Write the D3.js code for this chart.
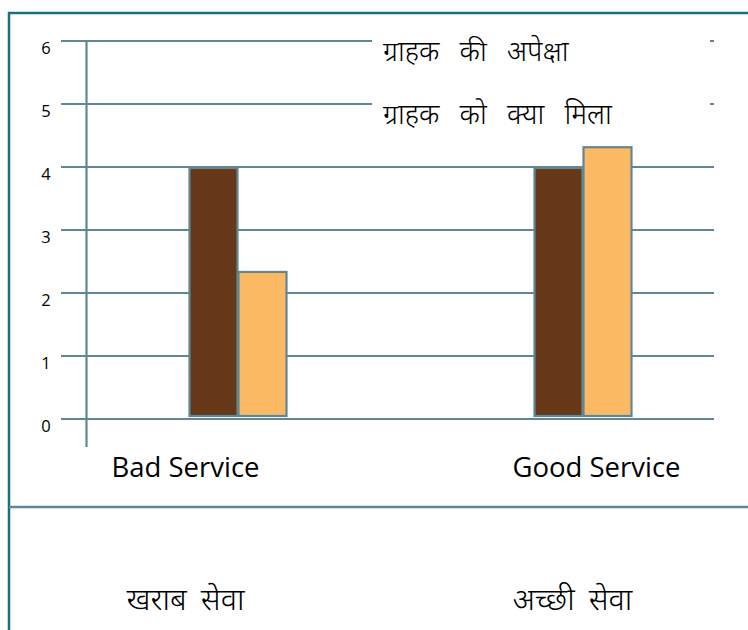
<!doctype html>
<html>
<head>
<meta charset="utf-8">
<script src="https://cdn.jsdelivr.net/npm/d3@7"></script>
<style>
  body { margin: 0; background: #fff; }
  svg text { font-family: "Open Sans", "Noto Sans", sans-serif; }
  .hi { font-family: "Noto Sans", "Noto Sans Devanagari", "Lohit Devanagari", sans-serif; font-weight: 300; }
</style>
</head>
<body>
<svg id="chart" width="748" height="630"></svg>
<script>
  var categories = ['Bad Service', 'Good Service'];
  var categoriesHindi = ['खराब सेवा', 'अच्छी सेवा'];
  var series = ['ग्राहक की अपेक्षा', 'ग्राहक को क्या मिला'];
  var expected = [4, 4];
  var received = [2.35, 4.33];
  var yTicks = [0, 1, 2, 3, 4, 5, 6];

  var grid = '#5f8796', frame = '#176f80';
  var colors = ['#673817', '#fcb963'];

  var svg = d3.select('#chart');

  var y = d3.scaleLinear().domain([0, 6]).range([419, 41]);
  var x0 = d3.scaleBand().domain(categories).range([65, 755]);
  var x1 = d3.scaleBand().domain(series).range([-49, 49]);

  // frame
  svg.append('line').attr('x1', 8).attr('x2', 748).attr('y1', 13).attr('y2', 13)
    .attr('stroke', frame).attr('stroke-width', 2.5);
  svg.append('line').attr('x1', 9).attr('x2', 9).attr('y1', 12).attr('y2', 630)
    .attr('stroke', frame).attr('stroke-width', 2.5);
  svg.append('line').attr('x1', 9).attr('x2', 748).attr('y1', 507).attr('y2', 507)
    .attr('stroke', grid).attr('stroke-width', 2.5);

  // gridlines
  svg.append('g').selectAll('line').data(yTicks).enter().append('line')
    .attr('x1', 61).attr('x2', 714)
    .attr('y1', function (d) { return y(d); })
    .attr('y2', function (d) { return y(d); })
    .attr('stroke', grid).attr('stroke-width', 2.2);

  svg.append('line').attr('x1', 86.5).attr('x2', 86.5).attr('y1', y(6)).attr('y2', 447)
    .attr('stroke', grid).attr('stroke-width', 2.2);

  svg.append('g').selectAll('text').data(yTicks).enter().append('text')
    .attr('x', 46).attr('y', function (d) { return y(d) + 13; })
    .attr('text-anchor', 'middle').attr('font-size', 16.5).attr('fill', '#000')
    .text(function (d) { return d; });

  // bars
  var groups = svg.append('g').selectAll('g').data(categories).enter().append('g')
    .attr('transform', function (d) { return 'translate(' + (x0(d) + x0.bandwidth() / 2) + ',0)'; });

  groups.selectAll('rect').data(function (d, i) {
    return [{ s: series[0], v: expected[i] }, { s: series[1], v: received[i] }];
  }).enter().append('rect')
    .attr('x', function (d) { return x1(d.s) + 1; })
    .attr('width', x1.bandwidth() - 1)
    .attr('y', function (d) { return y(d.v) + 1; })
    .attr('height', function (d) { return y(0) - y(d.v) - 4; })
    .attr('fill', function (d, i) { return colors[i]; })
    .attr('stroke', grid).attr('stroke-width', 2.2);

  // category labels
  var labelShift = [-52, 14];
  groups.append('text')
    .attr('x', function (d, i) { return labelShift[i]; }).attr('y', 477)
    .attr('text-anchor', 'middle').attr('font-size', 27.5).attr('fill', '#000')
    .text(function (d) { return d; });

  var hindiShift = [-52, -10];
  groups.append('text').attr('class', 'hi')
    .attr('x', function (d, i) { return hindiShift[i]; }).attr('y', 610)
    .attr('text-anchor', 'middle').attr('font-size', 31).attr('word-spacing', 6)
    .attr('fill', '#000')
    .text(function (d, i) { return categoriesHindi[i]; });

  // legend
  var legend = svg.append('g');
  legend.selectAll('rect').data(series).enter().append('rect')
    .attr('x', 372).attr('width', 338)
    .attr('y', function (d, i) { return y(6 - i) - 20; }).attr('height', 40)
    .attr('fill', '#fff');
  legend.selectAll('text').data(series).enter().append('text').attr('class', 'hi')
    .attr('x', 383).attr('y', function (d, i) { return y(6 - i) + 20; })
    .attr('font-size', 28).attr('word-spacing', 13).attr('fill', '#000')
    .text(function (d) { return d; });
</script>
</body>
</html>
